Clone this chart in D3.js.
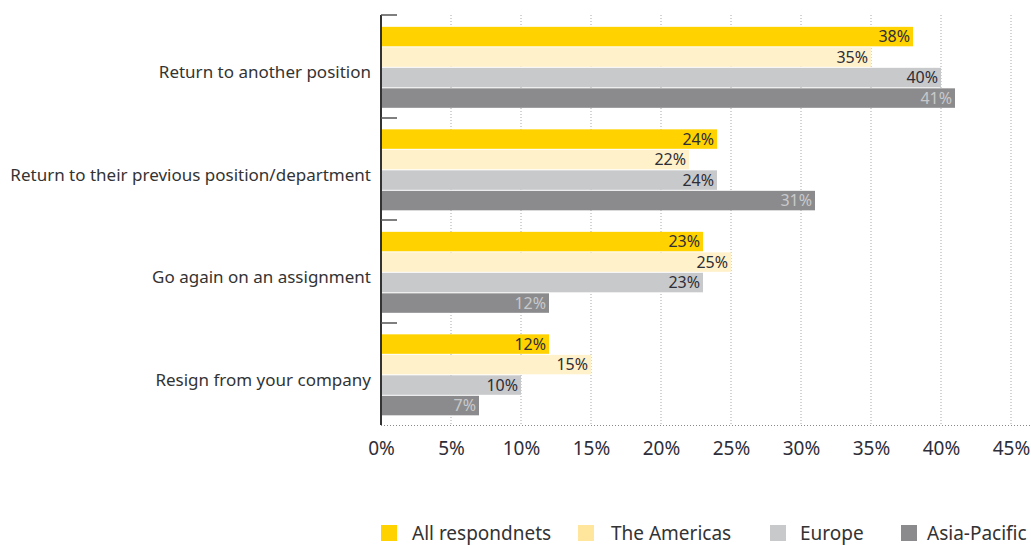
<!DOCTYPE html>
<html>
<head>
<meta charset="utf-8">
<script src="https://cdn.jsdelivr.net/npm/d3@7/dist/d3.min.js"></script>
<style>
  html, body { margin: 0; padding: 0; background: #fff; }
  svg { display: block; font-family: "Noto Sans", "DejaVu Sans", sans-serif; }
</style>
</head>
<body>
<svg id="chart" width="1031" height="545"></svg>
<script>
// Answers by outcome, share of respondents per region
const categories = [
  "Return to another position",
  "Return to their previous position/department",
  "Go again on an assignment",
  "Resign from your company"
];
const seriesNames = ["All respondnets", "The Americas", "Europe", "Asia-Pacific"];
const allRespondents = [38, 24, 23, 12];
const americas = [35, 22, 25, 15];
const europe = [40, 24, 23, 10];
const asiaPacific = [41, 31, 12, 7];
const xTicks = [0, 5, 10, 15, 20, 25, 30, 35, 40, 45];

const seriesValues = [allRespondents, americas, europe, asiaPacific];
const barColors = ["#FFD200", "#FFF1CA", "#C8C9CB", "#8B8B8D"];
const swatchColors = ["#FFD200", "#FFE69C", "#C8C9CB", "#8B8B8D"];
const labelColors = ["#2e2e38", "#2e2e38", "#2e2e38", "#c9c9cb"];

const svg = d3.select("#chart");
const plotLeft = 381, plotRight = 1011, plotTop = 15, plotBottom = 425;

const x = d3.scaleLinear().domain([0, 45]).range([plotLeft, plotRight]);
const y0 = d3.scaleBand().domain(categories).range([plotTop, plotBottom])
  .paddingInner(0.21).paddingOuter(0.105).align(0.55);
const y1 = d3.scaleBand().domain(d3.range(seriesNames.length))
  .range([0, y0.bandwidth()]).paddingInner(0.05);

// dotted vertical gridlines
svg.append("g").selectAll("line")
  .data(xTicks.slice(1))
  .join("line")
  .attr("x1", d => x(d)).attr("x2", d => x(d))
  .attr("y1", plotTop).attr("y2", plotBottom)
  .attr("stroke", "#a8a8a8").attr("stroke-width", 1)
  .attr("stroke-dasharray", "1,2");

// dotted baseline along the bottom
svg.append("line")
  .attr("x1", plotLeft).attr("x2", 1031)
  .attr("y1", plotBottom + 0.5).attr("y2", plotBottom + 0.5)
  .attr("stroke", "#8a8a8a").attr("stroke-width", 1)
  .attr("stroke-dasharray", "1,2");

// bars
const rows = categories.map((c, i) => ({
  cat: c,
  vals: seriesValues.map((s, j) => ({ j, v: s[i] }))
}));

const groups = svg.append("g").selectAll("g")
  .data(rows)
  .join("g")
  .attr("transform", d => `translate(0,${y0(d.cat)})`);

groups.selectAll("rect")
  .data(d => d.vals)
  .join("rect")
  .attr("x", x(0))
  .attr("y", d => y1(d.j))
  .attr("width", d => x(d.v) - x(0))
  .attr("height", y1.bandwidth())
  .attr("fill", d => barColors[d.j]);

groups.selectAll("text")
  .data(d => d.vals)
  .join("text")
  .attr("x", d => x(d.v) - 3)
  .attr("y", d => y1(d.j) + y1.bandwidth() / 2)
  .attr("dy", "0.36em")
  .attr("text-anchor", "end")
  .attr("font-size", 16)
  .attr("fill", d => labelColors[d.j])
  .text(d => d.v + "%");

// category labels
svg.append("g").selectAll("text")
  .data(categories)
  .join("text")
  .attr("x", 371)
  .attr("y", d => y0(d) + y0.bandwidth() / 2 + 5)
  .attr("dy", "0.35em")
  .attr("text-anchor", "end")
  .attr("font-size", 17)
  .attr("fill", "#333333")
  .text(d => d);

// left axis with category separators
svg.append("line")
  .attr("x1", plotLeft).attr("x2", plotLeft)
  .attr("y1", plotTop).attr("y2", plotBottom)
  .attr("stroke", "#333").attr("stroke-width", 2);

const sepY = categories.map(c => y0(c) - y0.step() * y0.paddingInner() * 0.55);
svg.append("g").selectAll("line")
  .data(sepY)
  .join("line")
  .attr("x1", plotLeft).attr("x2", plotLeft + 16)
  .attr("y1", d => Math.round(d)).attr("y2", d => Math.round(d))
  .attr("stroke", "#555").attr("stroke-width", 1.5);

// x axis tick labels
const xAxis = d3.axisBottom(x).tickValues(xTicks).tickFormat(d => d + "%").tickSize(0).tickPadding(0);
const gx = svg.append("g").attr("transform", `translate(0,${plotBottom + 16})`).call(xAxis);
gx.select(".domain").remove();
gx.selectAll("text")
  .attr("font-size", 19)
  .attr("font-family", "\"Noto Sans\", sans-serif")
  .attr("fill", "#2e2e38")
  .attr("dy", "0.71em");

// legend
const swatchX = [381, 578, 770, 901];
const legendTextX = [412, 611, 800, 927];
const legend = svg.append("g").selectAll("g")
  .data(seriesNames)
  .join("g");
legend.append("rect")
  .attr("x", (d, i) => swatchX[i]).attr("y", 525)
  .attr("width", 16).attr("height", 16)
  .attr("fill", (d, i) => swatchColors[i]);
legend.append("text")
  .attr("x", (d, i) => legendTextX[i]).attr("y", 533)
  .attr("dy", "0.35em")
  .attr("font-size", 19)
  .attr("fill", "#333333")
  .text(d => d);
</script>
</body>
</html>
